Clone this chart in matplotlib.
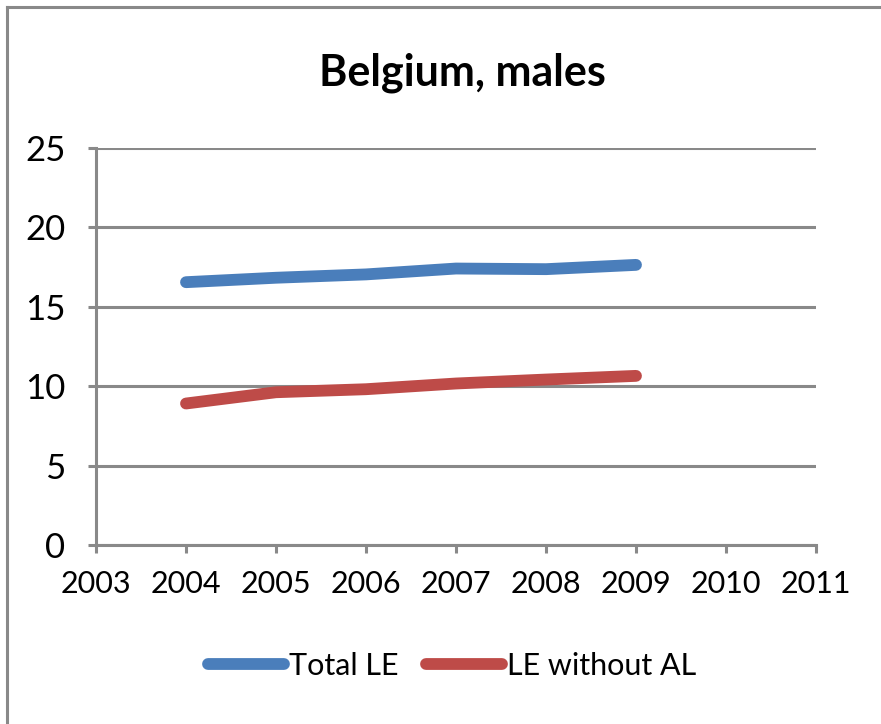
import matplotlib
matplotlib.use("Agg")
import matplotlib.pyplot as plt
from matplotlib.lines import Line2D

plt.rcParams["font.family"] = ["Lato", "DejaVu Sans"]

years = [2004, 2005, 2006, 2007, 2008, 2009]
total_le = [16.55, 16.83, 17.04, 17.41, 17.37, 17.64]
le_without_al = [8.91, 9.62, 9.81, 10.17, 10.42, 10.65]
x_ticks = list(range(2003, 2012))
y_ticks = [0, 5, 10, 15, 20, 25]

grey = "#898989"
blue = "#4a7ebb"
red = "#be4b48"

fig = plt.figure(figsize=(8.81, 7.24), dpi=100)
ax = fig.add_axes([96 / 881, 1 - 545 / 724, 720 / 881, 397 / 724])

ax.plot(years, total_le, color=blue, lw=8.5, solid_capstyle="round",
        solid_joinstyle="round", label="Total LE", zorder=3)
ax.plot(years, le_without_al, color=red, lw=8.5, solid_capstyle="round",
        solid_joinstyle="round", label="LE without AL", zorder=3)

ax.set_xlim(2003, 2011)
ax.set_ylim(0, 25)
ax.set_xticks(x_ticks)
ax.set_xticklabels([str(y) for y in x_ticks])
ax.set_yticks(y_ticks)
ax.set_yticklabels([str(v) for v in y_ticks])
ax.yaxis.grid(True, color=grey, lw=2.2)
ax.set_axisbelow(True)

for side in ["top", "right"]:
    ax.spines[side].set_visible(False)
for side in ["left", "bottom"]:
    ax.spines[side].set_color(grey)
    ax.spines[side].set_linewidth(2.2)

ax.tick_params(axis="both", colors=grey, width=2.2, length=6)
ax.tick_params(axis="y", labelsize=25, pad=16, labelcolor="black")
ax.tick_params(axis="x", labelsize=22, pad=12, labelcolor="black")

fig.text(462 / 881, 1 - 73 / 724, "Belgium, males", ha="center", va="center",
         fontsize=31, fontweight="bold")

handles, labels = ax.get_legend_handles_labels()
fig.legend(handles, labels, loc="center", bbox_to_anchor=(452 / 881, 1 - 666 / 724),
           ncol=2, frameon=False, fontsize=22, handlelength=2.5,
           handletextpad=0.15, columnspacing=0.9)

# outer chart border (left and top edges visible)
fig.add_artist(Line2D([6.5 / 881, 6.5 / 881], [0, 1 - 6.5 / 724], color=grey, lw=2.2))
fig.add_artist(Line2D([6.5 / 881, 1], [1 - 6.5 / 724, 1 - 6.5 / 724], color=grey, lw=2.2))

fig.savefig("out.png", dpi=100)
